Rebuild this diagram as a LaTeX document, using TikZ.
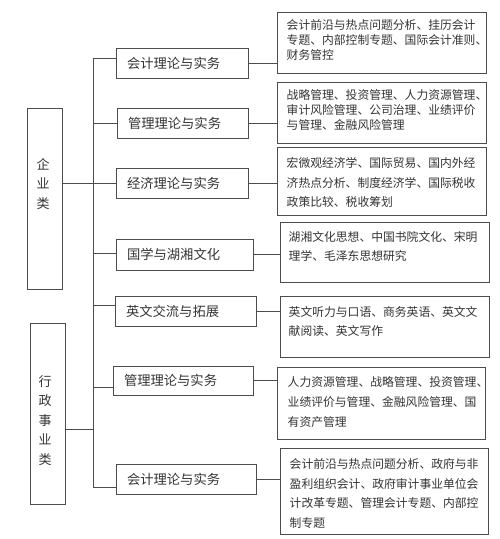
\documentclass[tikz,border=0pt]{standalone}
\usepackage{fontspec}
\newfontfamily\cjk{Noto Sans CJK SC}
\usepackage{tikz}
\usetikzlibrary{calc}
\tikzset{
  catbox/.style={draw=black!70, line width=0.7pt, minimum width=35pt,
                 minimum height=181pt, inner sep=0pt},
  cattxt/.style={font={\cjk\fontsize{13}{19.5}\selectfont}, text=black!80,
                 text width=13pt, align=center, inner sep=0pt, anchor=base},
  subbox/.style={draw=black!70, line width=0.7pt, text width=#1, align=left,
                 inner xsep=11pt, inner ysep=0pt, minimum height=30pt,
                 font={\cjk\fontsize{13.3}{16}\selectfont}, text=black!80},
  detbox/.style={draw=black!70, line width=0.7pt, anchor=north west,
                 minimum width=209pt, inner sep=0pt},
  dettxt/.style={font={\cjk\fontsize{11.8}{#1}\selectfont}, text=black!80,
                 text width=205pt, align=left, inner sep=0pt, anchor=base west},
  link/.style={draw=black!70, line width=0.7pt},
}

\begin{document}
\begin{tikzpicture}[x=1pt, y=-1pt]
  \useasboundingbox (0,0) rectangle (500,539);

  % categories on the left
  \node[catbox] (cat1) at (44.5,198.5) {};
  \node[cattxt] (cat1t) at (43,169) {企\\业\\类};
  \node[catbox] (cat2) at (47.5,413.5) {};
  \node[cattxt] (cat2t) at (45,386) {行\\政\\事\\业\\类};

  % course groups
  \node[subbox=110pt] (sub1) at (182,63) {会计理论与实务};
  \node[subbox=109pt] (sub2) at (182.5,123) {管理理论与实务};
  \node[subbox=110pt] (sub3) at (182,183) {经济理论与实务};
  \node[subbox=115pt, minimum height=31pt] (sub4) at (184.5,254.5) {国学与湖湘文化};
  \node[subbox=119pt] (sub5) at (185.5,311) {英文交流与拓展};
  \node[subbox=118pt, minimum height=29pt] (sub6) at (183,380.5) {管理理论与实务};
  \node[subbox=118pt] (sub7) at (186,479) {会计理论与实务};

  % detail boxes
  \node[detbox, minimum height=61pt] (det1) at (277,12) {};
  \node[detbox, minimum height=61pt] (det2) at (277,82) {};
  \node[detbox, minimum height=68pt] (det3) at (277,147) {};
  \node[detbox, minimum height=60pt] (det4) at (280,222) {};
  \node[detbox, minimum height=61pt] (det5) at (280,296) {};
  \node[detbox, minimum width=208pt, minimum height=72pt] (det6) at (277,367) {};
  \node[detbox, minimum width=208pt, minimum height=86pt] (det7) at (280,448) {};

  \node[dettxt=15] (det1t) at (286.5,29.5)
    {会计前沿与热点问题分析、挂历会计\\专题、内部控制专题、国际会计准则、\\财务管控};
  \node[dettxt=15] (det2t) at (286.5,99.5)
    {战略管理、投资管理、人力资源管理、\\审计风险管理、公司治理、业绩评价\\与管理、金融风险管理};
  \node[dettxt=19.5] (det3t) at (286.5,167.5)
    {宏微观经济学、国际贸易、国内外经\\济热点分析、制度经济学、国际税收\\政策比较、税收筹划};
  \node[dettxt=19] (det4t) at (288.5,241.5)
    {湖湘文化思想、中国书院文化、宋明\\理学、毛泽东思想研究};
  \node[dettxt=19] (det5t) at (288.5,316.5)
    {英文听力与口语、商务英语、英文文\\献阅读、英文写作};
  \node[dettxt=20] (det6t) at (287.5,386.5)
    {人力资源管理、战略管理、投资管理、\\业绩评价与管理、金融风险管理、国\\有资产管理};
  \node[dettxt=19.5] (det7t) at (289.5,468.5)
    {会计前沿与热点问题分析、政府与非\\盈利组织会计、政府审计事业单位会\\计改革专题、管理会计专题、内部控\\制专题};

  % trunk and branches
  \coordinate (j1) at (93,58);
  \coordinate (j2) at (93,123);
  \coordinate (j3) at (93,183);
  \coordinate (j4) at (93,253);
  \coordinate (j5) at (93,305);
  \coordinate (j6) at (93,387);
  \coordinate (j7) at (93,487);
  \coordinate (jc) at (93,429);
  \draw[link] (j1) -- (j7);
  \foreach \i in {1,...,7}
    \draw[link] (j\i) -- (sub\i.west |- j\i);
  \draw[link] (cat1.east |- j3) -- (j3);
  \draw[link] (cat2.east |- jc) -- (jc);
  \foreach \i in {1,...,7}
    \draw[link] (sub\i.east) -- (det\i.west |- sub\i.east);
\end{tikzpicture}
\end{document}
